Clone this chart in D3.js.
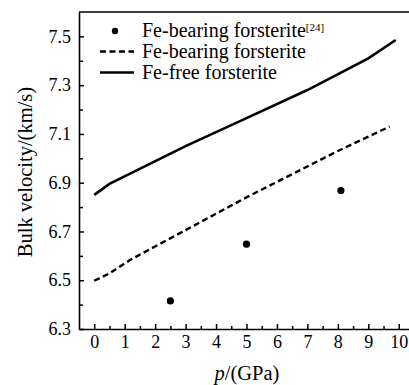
<!DOCTYPE html>
<html>
<head>
  <meta charset="utf-8">
  <script src="https://cdn.jsdelivr.net/npm/d3@7"></script>
  <style>
    body { margin: 0; background: #fff; }
    svg { display: block; }
    text { font-family: "Liberation Serif", serif; fill: #000; }
  </style>
</head>
<body>
<script>
// Fe-free forsterite (solid line)
const freeP = [0, 0.5, 3, 5, 7, 9, 9.9];
const freeV = [6.85, 6.895, 7.05, 7.165, 7.28, 7.41, 7.485];
// Fe-bearing forsterite (dashed line)
const bearP = [0, 0.5, 1.2, 2.8, 5, 8, 9.7];
const bearV = [6.498, 6.528, 6.585, 6.692, 6.84, 7.03, 7.13];
// Fe-bearing forsterite [24] (dots)
const refP = [2.5, 5, 8.1];
const refV = [6.415, 6.648, 6.868];

const xTicks = [0, 1, 2, 3, 4, 5, 6, 7, 8, 9, 10];
const yTicks = [6.3, 6.5, 6.7, 6.9, 7.1, 7.3, 7.5];

const w = 409, h = 385;
const mLeft = 79, mTop = 12, mBottom = 329, mRight = 414;

const x = d3.scaleLinear().domain([-0.5, 10.5]).range([mLeft, mRight]);
const y = d3.scaleLinear().domain([6.3, 7.6]).range([mBottom, mTop]);

const svg = d3.select("body").append("svg").attr("width", w).attr("height", h);

// minor ticks
svg.append("g")
  .attr("transform", `translate(0,${mBottom})`)
  .call(d3.axisBottom(x).tickValues(d3.range(0.5, 10.5, 1)).tickSize(-3).tickFormat(""))
  .call(g => g.select(".domain").remove());
svg.append("g")
  .attr("transform", `translate(${mLeft},0)`)
  .call(d3.axisLeft(y).tickValues([6.4, 6.6, 6.8, 7.0, 7.2, 7.4]).tickSize(-4).tickFormat(""))
  .call(g => g.select(".domain").remove());

// major axes
svg.append("g")
  .attr("transform", `translate(0,${mBottom})`)
  .call(d3.axisBottom(x).tickValues(xTicks).tickSize(-5).tickSizeOuter(0).tickPadding(6).tickFormat(d3.format("d")));
svg.append("g")
  .attr("transform", `translate(${mLeft},0)`)
  .call(d3.axisLeft(y).tickValues(yTicks).tickSize(-5).tickSizeOuter(0).tickPadding(8).tickFormat(d3.format(".1f")));

svg.selectAll(".tick line").attr("stroke", "#000").attr("stroke-width", 1.5);
svg.selectAll(".domain").attr("stroke", "#000").attr("stroke-width", 1.6);
svg.selectAll(".tick text")
  .style("font-family", "'Liberation Serif', serif")
  .style("font-size", "18px");

// top border
svg.append("line")
  .attr("x1", mLeft).attr("x2", mRight).attr("y1", mTop).attr("y2", mTop)
  .attr("stroke", "#000").attr("stroke-width", 1.6);

// lines
const line = d3.line().x(d => x(d[0])).y(d => y(d[1]));
svg.append("path")
  .datum(d3.zip(freeP, freeV))
  .attr("d", line)
  .attr("fill", "none").attr("stroke", "#000").attr("stroke-width", 2.6);
svg.append("path")
  .datum(d3.zip(bearP, bearV))
  .attr("d", line)
  .attr("fill", "none").attr("stroke", "#000").attr("stroke-width", 2.4)
  .attr("stroke-dasharray", "6,3.5");

svg.selectAll("circle.ref")
  .data(d3.zip(refP, refV))
  .enter().append("circle")
  .attr("class", "ref")
  .attr("cx", d => x(d[0])).attr("cy", d => y(d[1]))
  .attr("r", 3.6).attr("fill", "#000");

// legend
const lg = svg.append("g");
lg.append("circle").attr("cx", 115).attr("cy", 31).attr("r", 3.2).attr("fill", "#000");
lg.append("line").attr("x1", 100).attr("x2", 134).attr("y1", 51.5).attr("y2", 51.5)
  .attr("stroke", "#000").attr("stroke-width", 2.4).attr("stroke-dasharray", "6,3.5");
lg.append("line").attr("x1", 100).attr("x2", 134).attr("y1", 72.5).attr("y2", 72.5)
  .attr("stroke", "#000").attr("stroke-width", 2.6);

const legendSize = "20px";
const t1 = lg.append("text").attr("x", 142).attr("y", 36.5).style("font-size", legendSize);
t1.append("tspan").text("Fe-bearing forsterite");
t1.append("tspan").attr("dy", -6).style("font-size", "11px").text("[24]");
lg.append("text").attr("x", 142).attr("y", 57.5).style("font-size", legendSize).text("Fe-bearing forsterite");
lg.append("text").attr("x", 142).attr("y", 78.5).style("font-size", legendSize).text("Fe-free forsterite");

// axis titles
svg.append("text")
  .attr("transform", "translate(32,172) rotate(-90)")
  .attr("text-anchor", "middle")
  .style("font-size", "20.5px")
  .text("Bulk velocity/(km/s)");
const xt = svg.append("text")
  .attr("x", 247).attr("y", 380)
  .attr("text-anchor", "middle")
  .style("font-size", "20.5px");
xt.append("tspan").style("font-style", "italic").text("p");
xt.append("tspan").text("/(GPa)");
</script>
</body>
</html>
